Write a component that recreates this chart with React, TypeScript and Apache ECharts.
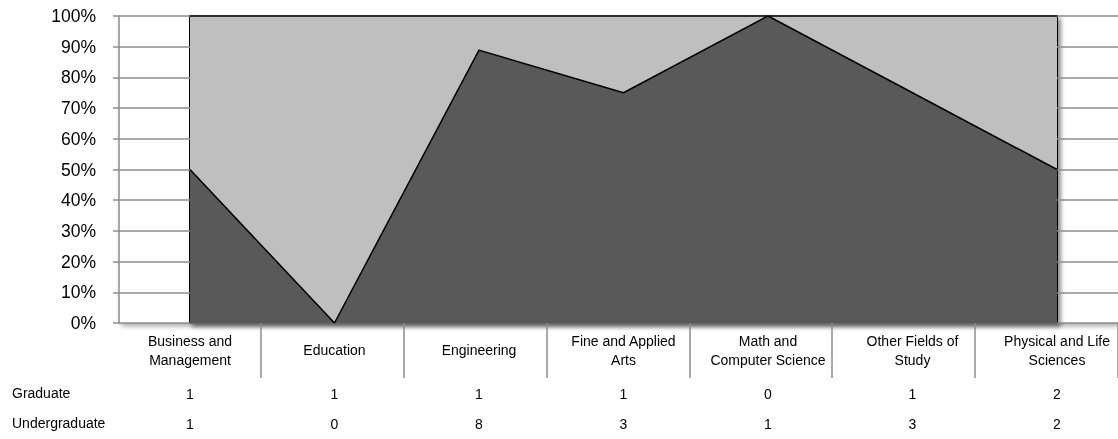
import React, { useEffect, useRef } from "react";
import * as echarts from "echarts";

const categories = [
  "Business and\nManagement",
  "Education",
  "Engineering",
  "Fine and Applied\nArts",
  "Math and\nComputer Science",
  "Other Fields of\nStudy",
  "Physical and Life\nSciences",
];
const graduate = [1, 1, 1, 1, 0, 1, 2];
const undergraduate = [1, 0, 8, 3, 1, 3, 2];
const rowLabels = ["Graduate", "Undergraduate"];
const yMax = 100;
const yStep = 10;

const FONT = "Liberation Sans";

export default function App() {
  const ref = useRef<HTMLDivElement>(null);
  useEffect(() => {
    if (!ref.current) return;
    const chart = echarts.init(ref.current, null, { renderer: "svg" });
    const totals = categories.map((_, i) => graduate[i] + undergraduate[i]);
    const underPct = undergraduate.map((v, i) => (totals[i] ? (v / totals[i]) * 100 : 0));
    const gradPct = graduate.map((v, i) => (totals[i] ? (v / totals[i]) * 100 : 0));

    const option: any = {
      animation: false,
      textStyle: { fontFamily: FONT },
      grid: [
        {
          left: 119, right: 0, top: 16, bottom: 116,
          show: true, borderWidth: 0, backgroundColor: "#fff",
          shadowColor: "rgba(0,0,0,0.35)", shadowBlur: 5, shadowOffsetX: 2, shadowOffsetY: 3,
        },
        {
          left: 190, right: 61, top: 16, bottom: 116,
          show: true, borderColor: "#000", borderWidth: 2, backgroundColor: "#595959",
          shadowColor: "rgba(0,0,0,0.45)", shadowBlur: 4, shadowOffsetX: 3, shadowOffsetY: 3,
        },
        { left: 117.75, width: 1011.5, top: 16, bottom: 116, show: false },
      ],
      xAxis: [
        { gridIndex: 0, type: "value", show: false },
        {
          gridIndex: 1, type: "category", data: categories, boundaryGap: false,
          axisLine: { show: false }, axisTick: { show: false }, splitLine: { show: false },
          axisLabel: {
            interval: 0, margin: 8, color: "#000", fontFamily: FONT,
            formatter: (value: string, index: number) => {
              const lines = value.split("\n");
              const head = lines.length === 2 ? `{h|${lines[0]}}\n{h|${lines[1]}}` : `{c|${lines[0]}}`;
              return `${head}\n{s| }\n{n|${graduate[index]}}\n{n|${undergraduate[index]}}`;
            },
            rich: {
              h: { fontSize: 14, lineHeight: 19, fontFamily: FONT, color: "#000" },
              c: { fontSize: 14, lineHeight: 38, fontFamily: FONT, color: "#000" },
              s: { fontSize: 1, lineHeight: 9.5 },
              n: { fontSize: 14, lineHeight: 30, fontFamily: FONT, color: "#000" },
            },
          },
        },
        {
          gridIndex: 2, type: "category", data: categories, boundaryGap: true,
          axisLine: { show: false }, axisLabel: { show: false }, splitLine: { show: false },
          axisTick: {
            show: true, length: 55, interval: (index: number) => index !== 0,
            lineStyle: { color: "#8c8c8c", width: 1.5 },
          },
        },
      ],
      yAxis: [
        {
          gridIndex: 0, type: "value", min: 0, max: yMax, interval: yStep,
          axisLine: { show: true, lineStyle: { color: "#8c8c8c", width: 1.5 } },
          axisTick: { show: true, length: 6, lineStyle: { color: "#8c8c8c", width: 1.5 } },
          splitLine: { show: true, lineStyle: { color: "#8c8c8c", width: 1.5 } },
          axisLabel: { formatter: "{value}%", margin: 23, fontSize: 17.5, color: "#000", fontFamily: FONT },
        },
        { gridIndex: 1, type: "value", min: 0, max: yMax, show: false },
        { gridIndex: 2, type: "value", min: 0, max: yMax, show: false },
      ],
      graphic: rowLabels.map((t, i) => ({
        type: "text", left: 12, top: 386 + i * 30,
        style: { text: t, fontSize: 14, fontFamily: FONT, fill: "#000" },
      })),
      series: [
        {
          name: "Undergraduate", type: "line", stack: "total", xAxisIndex: 1, yAxisIndex: 1,
          data: underPct, symbol: "none", z: 3,
          lineStyle: { color: "#000", width: 1.5 },
          areaStyle: { color: "#595959", opacity: 1 },
        },
        {
          name: "Graduate", type: "line", stack: "total", xAxisIndex: 1, yAxisIndex: 1,
          data: gradPct, symbol: "none", z: 2,
          lineStyle: { color: "#000", width: 1.5 },
          areaStyle: { color: "#bfbfbf", opacity: 1 },
        },
      ],
    };
    chart.setOption(option);
    return () => chart.dispose();
  }, []);
  return <div ref={ref} style={{ position: "fixed", left: 0, top: 0, width: 1118, height: 439 }} />;
}
